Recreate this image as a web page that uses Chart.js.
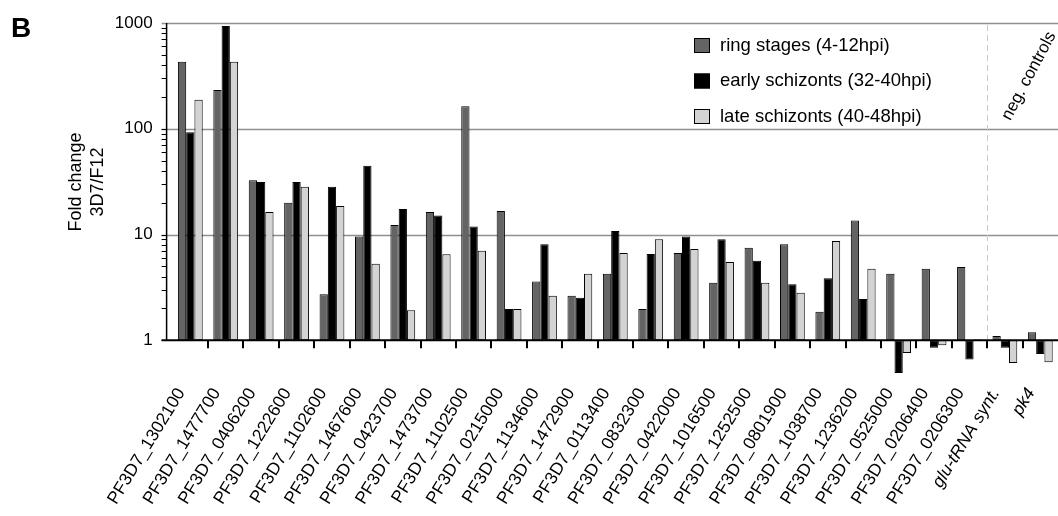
<!DOCTYPE html>
<html><head><meta charset="utf-8">
<script src="https://cdn.jsdelivr.net/npm/chart.js@4.4.0/dist/chart.umd.min.js"></script>
<style>html,body{margin:0;padding:0;background:#fff}#wrap{width:1058px;height:516px;position:relative}</style>
</head><body><div id="wrap"><canvas id="c"></canvas></div>
<script>
const categories = ['PF3D7_1302100','PF3D7_1477700','PF3D7_0406200','PF3D7_1222600','PF3D7_1102600','PF3D7_1467600','PF3D7_0423700','PF3D7_1473700','PF3D7_1102500','PF3D7_0215000','PF3D7_1134600','PF3D7_1472900','PF3D7_0113400','PF3D7_0832300','PF3D7_0422000','PF3D7_1016500','PF3D7_1252500','PF3D7_0801900','PF3D7_1038700','PF3D7_1236200','PF3D7_0525000','PF3D7_0206400','PF3D7_0206300','glu-tRNA synt.','pk4'];
const negControls = ['glu-tRNA synt.','pk4'];
const seriesNames = ['ring stages (4-12hpi)','early schizonts (32-40hpi)','late schizonts (40-48hpi)'];
const ringStages     = [430, 232, 32.6, 20, 2.72, 9.6, 12.3, 16.3, 163, 16.7, 3.6, 2.64, 4.26, 1.98, 6.7, 3.5, 7.5, 8.1, 1.86, 13.6, 4.26, 4.75, 4.93, 1.1, 1.19];
const earlySchizonts = [92.5, 935, 31.4, 31.4, 28.3, 44.7, 17.4, 15.1, 11.9, 1.98, 8.1, 2.53, 10.8, 6.55, 9.6, 9.0, 5.66, 3.38, 3.86, 2.46, 0.49, 0.85, 0.66, 0.85, 0.74];
const lateSchizonts  = [188, 430, 16.3, 28.3, 18.6, 5.3, 1.92, 6.5, 7.03, 1.98, 2.64, 4.26, 6.69, 9.0, 7.3, 5.5, 3.5, 2.82, 8.7, 4.75, 0.76, 0.9, 1.02, 0.61, 0.62];
const yTickValues = [1, 10, 100, 1000];
const yAxisTitle = ['Fold change', '3D7/F12'];
const panelLetter = 'B';
const controlsLabel = 'neg. controls';

const colors = ['#646464', '#000000', '#d3d3d3'];
const FONT = "'Liberation Sans', Arial, sans-serif";
const controlStart = categories.indexOf(negControls[0]);

const decor = {
  id: 'decor',
  beforeDatasetsDraw(chart) {
    const {ctx, chartArea: ca, scales: {x, y}} = chart;
    const axisX = ca.left - 6;
    ctx.save();
    ctx.strokeStyle = '#8f8f8f'; ctx.lineWidth = 1.3;
    yTickValues.slice(1).forEach(v => {
      const py = Math.round(y.getPixelForValue(v)) + 0.5;
      ctx.beginPath(); ctx.moveTo(axisX - 5, py); ctx.lineTo(ca.right, py); ctx.stroke();
    });
    const sepX = Math.round((x.getPixelForValue(controlStart - 1) + x.getPixelForValue(controlStart)) / 2) + 0.5;
    ctx.strokeStyle = '#c9c9c9'; ctx.lineWidth = 1; ctx.setLineDash([6, 4]);
    ctx.beginPath(); ctx.moveTo(sepX, y.getPixelForValue(yTickValues[yTickValues.length-1]) + 2); ctx.lineTo(sepX, y.getPixelForValue(1)); ctx.stroke();
    ctx.restore();
  },
  afterDatasetsDraw(chart) {
    const {ctx, chartArea: ca, scales: {x, y}} = chart;
    const axisX = ca.left - 6;
    const y1 = y.getPixelForValue(1);
    const yTop = y.getPixelForValue(yTickValues[yTickValues.length-1]);
    ctx.save();
    ctx.strokeStyle = '#000';
    ctx.lineWidth = 1.5;
    ctx.beginPath(); ctx.moveTo(axisX, yTop); ctx.lineTo(axisX, y1); ctx.stroke();
    ctx.lineWidth = 1;
    for (let d = 0; d < yTickValues.length - 1; d++) {
      const base = yTickValues[d];
      for (let m = 1; m < 10; m++) {
        const py = Math.round(y.getPixelForValue(base * m)) + 0.5;
        ctx.beginPath(); ctx.moveTo(axisX - 5, py); ctx.lineTo(axisX, py); ctx.stroke();
      }
    }
    ctx.lineWidth = 2;
    ctx.beginPath(); ctx.moveTo(axisX - 5, y1); ctx.lineTo(ca.right, y1); ctx.stroke();
    for (let i = 0; i < categories.length - 1; i++) {
      const bx = Math.round((x.getPixelForValue(i) + x.getPixelForValue(i + 1)) / 2);
      ctx.beginPath(); ctx.moveTo(bx, y1); ctx.lineTo(bx, y1 + 8); ctx.stroke();
    }
    ctx.restore();
  },
  afterDraw(chart) {
    const {ctx} = chart;
    ctx.save();
    ctx.fillStyle = '#000';
    ctx.font = `bold 28px ${FONT}`;
    ctx.textAlign = 'left'; ctx.textBaseline = 'alphabetic';
    ctx.fillText(panelLetter, 11, 37);
    ctx.font = `18px ${FONT}`;
    ctx.textAlign = 'center'; ctx.textBaseline = 'middle';
    yAxisTitle.forEach((t, i) => {
      ctx.save(); ctx.translate(76 + i * 22, 182); ctx.rotate(-Math.PI / 2); ctx.fillText(t, 0, 0); ctx.restore();
    });
    chart.data.datasets.forEach((ds, i) => {
      const ly = 38 + i * 35.5;
      ctx.fillStyle = ds.backgroundColor; ctx.fillRect(694, ly, 16, 15);
      ctx.strokeStyle = '#000'; ctx.lineWidth = 1; ctx.strokeRect(694.5, ly + 0.5, 15, 14);
      ctx.fillStyle = '#000'; ctx.font = `18.5px ${FONT}`; ctx.textAlign = 'left'; ctx.textBaseline = 'middle';
      ctx.fillText(ds.label, 720, ly + 7.5);
    });
    ctx.save();
    ctx.translate(1029, 76); ctx.rotate(-62 * Math.PI / 180);
    ctx.font = `17px ${FONT}`; ctx.textAlign = 'center'; ctx.textBaseline = 'middle'; ctx.fillStyle = '#000';
    ctx.fillText(controlsLabel, 0, 0);
    ctx.restore();
    ctx.restore();
  }
};

const seriesData = [ringStages, earlySchizonts, lateSchizonts];
new Chart(document.getElementById('c'), {
  type: 'bar',
  data: {
    labels: categories,
    datasets: seriesData.map((arr, i) => ({
      label: seriesNames[i],
      data: arr.map(v => [1, v]),
      backgroundColor: colors[i],
      borderColor: '#000',
      borderWidth: 1,
      borderSkipped: false,
      categoryPercentage: 0.7,
      barPercentage: 1.0
    }))
  },
  options: {
    responsive: true,
    maintainAspectRatio: false,
    animation: false,
    layout: {padding: {top: 23, right: 0, bottom: 0, left: 0}},
    plugins: {legend: {display: false}, tooltip: {enabled: false}, title: {display: false}},
    scales: {
      x: {
        type: 'category',
        grid: {display: false, drawTicks: false},
        border: {display: false},
        ticks: {
          autoSkip: false, minRotation: 58.5, maxRotation: 58.5, padding: 6.5, labelOffset: -9,
          color: '#000',
          font: c => ({family: FONT, size: 17.5, style: negControls.includes(categories[c.index]) ? 'italic' : 'normal'})
        },
        afterFit: s => { s.height = 138; s.paddingLeft = 0; s.paddingRight = 0; }
      },
      y: {
        type: 'logarithmic',
        min: 0.44, max: 1000,
        grid: {display: false, drawTicks: false},
        border: {display: false},
        afterBuildTicks: s => { s.ticks = yTickValues.map(v => ({value: v})); },
        ticks: {color: '#000', padding: 20, font: {family: FONT, size: 17}, callback: v => String(v)},
        afterFit: s => { s.width = 172.6; s.paddingTop = 0; s.paddingBottom = 0; }
      }
    }
  },
  plugins: [decor]
});
</script></body></html>
